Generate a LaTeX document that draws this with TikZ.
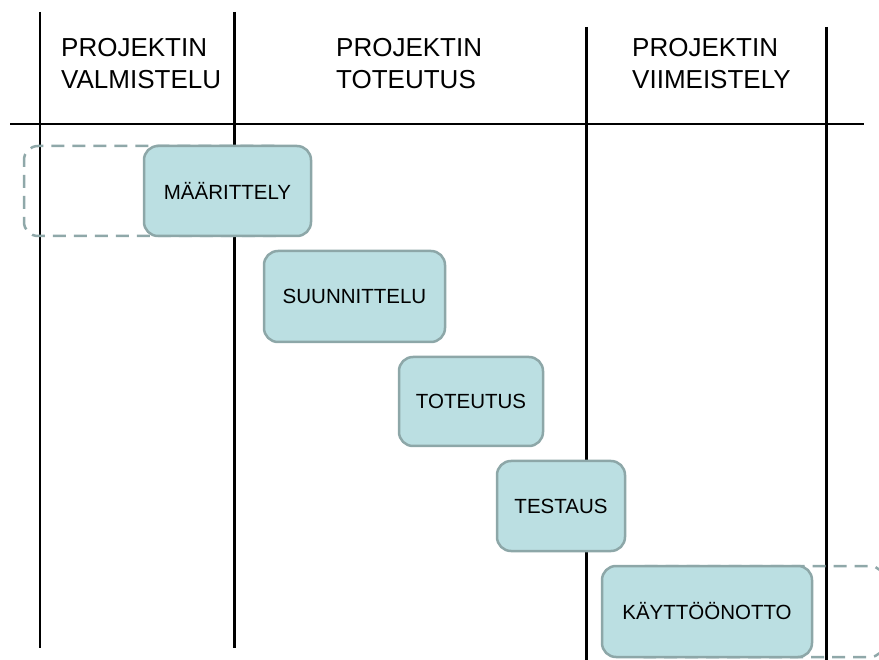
\documentclass[tikz,border=0pt]{standalone}
\usepackage{fontspec}
\setmainfont{Liberation Sans}
\definecolor{phasefill}{HTML}{BBDFE2}
\definecolor{phaseedge}{HTML}{8DA7A8}
\definecolor{spilledge}{HTML}{8FA8A9}
\begin{document}
\begin{tikzpicture}[x=1pt,y=-1pt,
  grid/.style={line width=2.5pt,black},
  header/.style={anchor=north west,inner sep=0pt,align=left,
    font=\fontsize{26}{32}\selectfont},
  phase/.style={draw=phaseedge,fill=phasefill,line width=2.5pt,
    rounded corners=14pt,inner sep=0pt,font=\fontsize{20.5}{24}\selectfont},
  spill/.style={draw=spilledge,line width=2.5pt,dash pattern=on 13pt off 8pt,
    rounded corners=14pt}]
\useasboundingbox (0,0) rectangle (879,660);

% column rules and header rule
\draw[grid] (40,12) -- (40,648);
\draw[grid] (234.5,12) -- (234.5,648);
\draw[grid] (586.5,27) -- (586.5,662);
\draw[grid] (826.5,27) -- (826.5,662);
\draw[grid] (10,124) -- (864,124);

% column headings
\node[header] (h1) at (61,38.5) {PROJEKTIN\\VALMISTELU};
\node[header] (h2) at (336,38.5) {PROJEKTIN\\TOTEUTUS};
\node[header] (h3) at (632,38.5) {PROJEKTIN\\VIIMEISTELY};

% phases extending beyond the project
\draw[spill] (290,146) rectangle (24,236);
\draw[spill] (630,566) rectangle (884,657);

% project phases
\node[phase,minimum width=167pt,minimum height=90pt] (maar) at (227.5,191) {MÄÄRITTELY};
\node[phase,minimum width=181pt,minimum height=91pt] (suun) at (354.5,296.5) {SUUNNITTELU};
\node[phase,minimum width=144pt,minimum height=89pt] (tote) at (471,401.5) {TOTEUTUS};
\node[phase,minimum width=128pt,minimum height=90pt] (test) at (561,506) {TESTAUS};
\node[phase,minimum width=210pt,minimum height=91pt] (kayt) at (707,611.5) {KÄYTTÖÖNOTTO};
\end{tikzpicture}
\end{document}
